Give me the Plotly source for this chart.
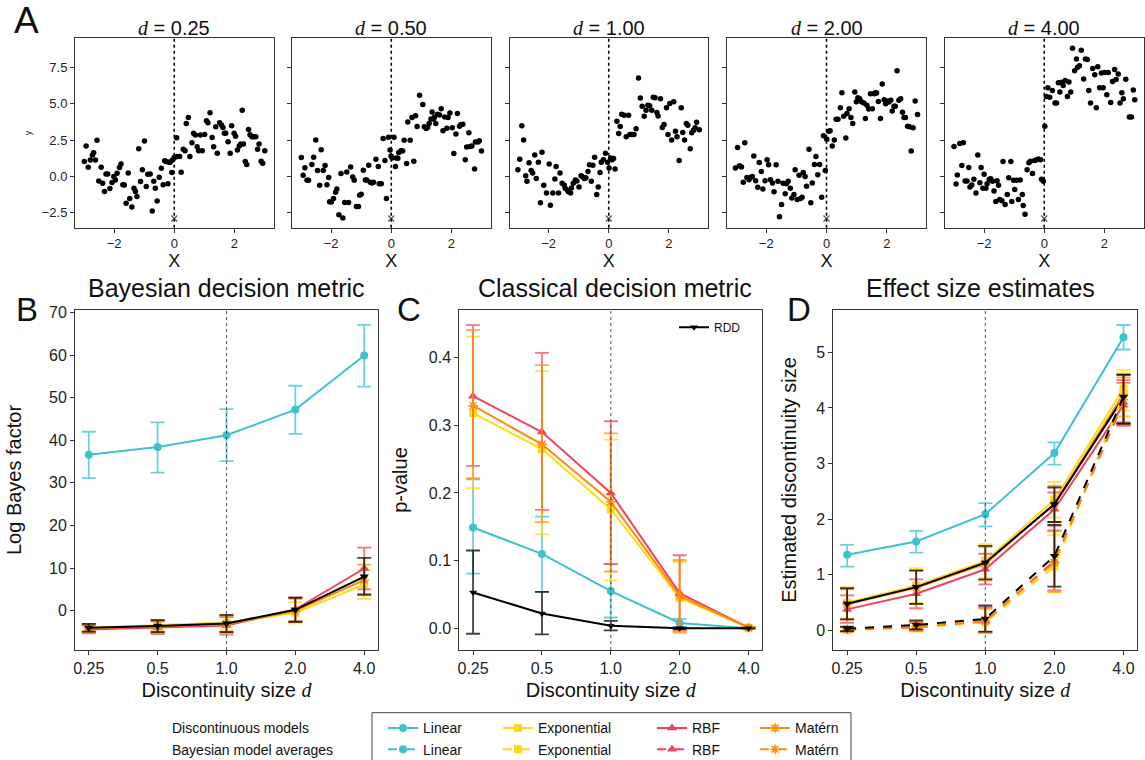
import numpy as np
import plotly.graph_objects as go

W, H = 1145, 760

# ---------------- Panel A: simulated data per discontinuity size ----------------
d_sizes = [0.25, 0.5, 1.0, 2.0, 4.0]
d_ticktext = ["0.25", "0.5", "1.0", "2.0", "4.0"]
threshold_x = [0.0]
threshold_marker_y = [-2.9]

xA1 = [-2.99,-2.93,-2.86,-2.79,-2.72,-2.68,-2.62,-2.57,-2.51,-2.43,
       -2.38,-2.32,-2.27,-2.21,-2.14,-2.07,-2.01,-1.96,-1.90,-1.82,
       -1.77,-1.71,-1.66,-1.60,-1.53,-1.48,-1.41,-1.34,-1.29,-1.24,
       -1.18,-1.12,-1.06,-0.99,-0.93,-0.88,-0.80,-0.73,-0.68,-0.63,
       -0.57,-0.50,-0.43,-0.37,-0.32,-0.27,-0.21,-0.18,-0.14,-0.08,
       -0.06,-0.01,0.01,0.08,0.10,0.18,0.23,0.30,0.36,0.40,
       0.47,0.52,0.59,0.64,0.70,0.76,0.81,0.87,0.93,1.01,
       1.07,1.12,1.19,1.26,1.31,1.38,1.43,1.51,1.57,1.62,
       1.67,1.71,1.79,1.86,1.91,1.99,2.04,2.10,2.16,2.21,
       2.26,2.30,2.36,2.41,2.47,2.52,2.58,2.64,2.71,2.77,
       2.82,2.89,2.94,3.01]
yA1 = [1.02,2.09,0.63,1.13,1.47,1.63,1.13,2.48,-0.31,0.63,
       -0.47,-1.04,0.17,0.17,-0.83,-0.42,-0.01,-0.24,0.22,0.61,
       0.86,-0.58,-0.60,-1.84,0.24,-1.52,-2.11,-0.81,-1.04,-1.38,
       1.91,-0.35,0.45,2.43,-0.70,0.15,0.17,-2.38,-0.33,-0.81,
       -1.70,-0.06,0.56,-0.58,1.08,1.02,-0.51,0.97,0.97,0.26,
       1.13,1.24,1.34,2.66,1.36,1.36,0.29,1.86,1.77,3.64,
       4.05,1.36,2.32,2.96,2.84,2.04,1.77,2.84,1.77,2.89,
       3.82,3.69,4.37,2.68,2.04,3.41,1.59,3.69,3.53,3.37,
       2.96,2.96,2.39,1.59,3.48,2.96,2.77,1.82,2.09,2.23,
       4.55,2.23,1.02,0.81,3.23,2.87,2.73,2.73,2.73,1.86,
       2.23,1.04,0.90,1.77]

xA2 = [-2.99,-2.93,-2.87,-2.80,-2.75,-2.64,-2.58,-2.51,-2.45,-2.38,
       -2.33,-2.26,-2.20,-2.14,-2.08,-2.05,-1.99,-1.92,-1.85,-1.81,
       -1.74,-1.67,-1.61,-1.55,-1.48,-1.42,-1.35,-1.28,-1.23,-1.16,
       -1.09,-1.05,-1.00,-0.93,-0.86,-0.82,-0.75,-0.70,-0.64,-0.59,
       -0.51,-0.43,-0.40,-0.33,-0.27,-0.21,-0.16,-0.09,-0.04,-0.01,
       0.03,0.09,0.14,0.17,0.22,0.25,0.32,0.38,0.43,0.51,
       0.55,0.63,0.69,0.75,0.81,0.86,0.94,1.05,1.10,1.16,
       1.21,1.26,1.32,1.36,1.41,1.44,1.48,1.54,1.61,1.66,
       1.72,1.78,1.85,1.89,1.95,2.03,2.08,2.15,2.20,2.27,
       2.31,2.38,2.46,2.51,2.58,2.62,2.68,2.77,2.80,2.88,
       2.93,3.00]
yA2 = [1.30,0.07,0.59,-0.27,-0.27,0.82,1.32,2.50,0.41,-0.61,
       1.84,0.41,0.75,-0.57,-0.07,-1.75,-1.77,-1.52,-1.09,-0.86,
       -2.64,0.20,-2.86,-1.80,0.30,-1.80,0.64,-0.05,-0.27,-2.07,
       -2.07,-1.30,-1.23,0.43,-0.25,-0.25,0.77,-0.41,-0.45,-0.41,
       1.18,0.68,-0.50,-0.50,2.61,1.09,-1.52,2.70,1.82,1.41,
       1.27,2.70,0.68,1.27,1.25,1.64,1.77,1.75,2.48,0.89,
       3.75,2.48,4.05,1.05,4.18,3.43,5.59,4.95,3.41,3.30,
       3.36,3.64,3.95,4.43,3.95,4.09,3.64,4.27,4.23,4.66,
       3.14,4.09,3.32,4.05,4.36,3.34,1.57,2.91,4.32,3.45,
       3.55,3.59,1.14,2.02,3.00,2.05,2.09,0.50,2.36,2.36,
       2.45,1.75]

xA3 = [-3.02,-2.96,-2.89,-2.83,-2.76,-2.72,-2.65,-2.58,-2.53,-2.46,
       -2.41,-2.34,-2.27,-2.22,-2.16,-2.07,-1.98,-1.94,-1.86,-1.79,
       -1.75,-1.67,-1.62,-1.55,-1.48,-1.45,-1.38,-1.34,-1.27,-1.24,
       -1.18,-1.11,-1.06,-0.99,-0.92,-0.87,-0.81,-0.76,-0.69,-0.64,
       -0.58,-0.53,-0.47,-0.40,-0.35,-0.29,-0.25,-0.18,-0.11,-0.04,
       0.01,0.06,0.11,0.16,0.21,0.27,0.33,0.38,0.43,0.51,
       0.58,0.66,0.70,0.77,0.84,0.91,0.99,1.05,1.11,1.18,
       1.24,1.30,1.36,1.43,1.48,1.54,1.60,1.64,1.72,1.78,
       1.84,1.92,1.97,2.03,2.09,2.16,2.22,2.27,2.34,2.41,
       2.46,2.52,2.58,2.63,2.71,2.76,2.82,2.87,2.92,3.01]
yA3 = [0.45,1.18,3.48,2.50,0.05,-0.34,0.93,0.41,0.23,1.48,
       -0.14,0.98,-1.82,1.66,-0.61,-1.14,0.86,-1.98,-1.14,-0.18,
       0.68,-1.14,0.23,-0.48,-0.59,-0.82,-0.93,-1.05,-1.14,-0.80,
       -0.48,-0.25,-0.32,-0.73,0.05,-0.02,-0.14,-0.09,0.34,0.80,
       -0.34,0.77,1.32,-1.25,-0.73,0.27,0.98,1.14,1.59,0.98,
       0.57,1.27,1.14,1.23,0.50,3.80,2.95,3.43,4.27,4.20,
       2.73,4.20,2.89,2.89,2.89,3.27,6.77,5.39,4.82,4.14,
       4.55,4.89,4.86,4.55,5.45,5.41,4.39,4.16,5.34,3.36,
       3.57,4.73,2.89,5.02,2.50,5.14,3.11,2.73,1.09,4.73,
       3.02,2.50,3.64,3.52,1.91,3.00,3.18,3.34,3.73,3.20]

xA4 = [-3.02,-2.95,-2.89,-2.82,-2.76,-2.71,-2.64,-2.57,-2.52,-2.46,
       -2.41,-2.35,-2.28,-2.23,-2.16,-2.11,-2.04,-1.97,-1.92,-1.86,
       -1.79,-1.74,-1.67,-1.61,-1.56,-1.49,-1.44,-1.37,-1.33,-1.27,
       -1.20,-1.15,-1.08,-1.04,-0.97,-0.91,-0.86,-0.81,-0.77,-0.71,
       -0.66,-0.58,-0.52,-0.47,-0.40,-0.35,-0.29,-0.23,-0.16,-0.10,
       -0.04,0.01,0.07,0.12,0.19,0.26,0.32,0.38,0.46,0.51,
       0.57,0.64,0.68,0.75,0.81,0.87,0.94,0.99,1.04,1.10,
       1.16,1.24,1.29,1.34,1.40,1.46,1.52,1.58,1.62,1.66,
       1.72,1.79,1.85,1.91,1.96,2.02,2.07,2.13,2.18,2.24,
       2.28,2.34,2.40,2.46,2.52,2.57,2.62,2.69,2.75,2.81,
       2.87,2.94,3.02]
yA4 = [0.57,1.98,0.73,0.64,-0.41,2.32,-0.07,-0.23,-0.07,0.00,
       1.41,-0.30,-0.75,0.95,0.34,-0.86,-0.30,1.14,0.80,-0.23,
       -0.45,-1.05,0.80,-0.34,-2.77,-1.93,-0.48,-1.20,-0.50,-0.34,
       -0.82,-1.48,-1.25,0.45,-1.59,0.07,-1.52,-1.43,0.27,0.00,
       -0.68,1.86,-1.82,-0.45,0.82,1.36,0.11,0.82,-1.43,2.80,
       0.41,2.55,3.11,3.14,2.09,2.50,3.93,3.93,4.73,5.75,
       4.14,2.64,4.32,4.66,4.05,3.64,5.80,5.14,5.41,5.34,
       5.14,5.05,3.98,4.89,4.64,5.68,4.66,5.68,5.75,5.73,
       5.16,3.98,6.36,5.27,5.00,5.18,5.11,5.23,4.50,4.82,
       4.82,7.27,5.23,5.34,4.41,4.05,4.05,3.45,3.41,1.75,
       3.34,5.18,4.25]

xA5 = [-3.00,-2.93,-2.89,-2.81,-2.74,-2.69,-2.63,-2.57,-2.51,-2.47,
       -2.41,-2.34,-2.27,-2.21,-2.14,-2.10,-2.04,-2.00,-1.94,-1.90,
       -1.83,-1.78,-1.72,-1.67,-1.61,-1.57,-1.52,-1.48,-1.41,-1.37,
       -1.30,-1.23,-1.18,-1.11,-1.08,-1.02,-0.98,-0.92,-0.86,-0.80,
       -0.73,-0.70,-0.64,-0.57,-0.51,-0.46,-0.39,-0.32,-0.26,-0.19,
       -0.12,-0.09,-0.03,0.02,0.07,0.12,0.18,0.27,0.36,0.41,
       0.47,0.52,0.58,0.63,0.70,0.77,0.82,0.88,0.94,1.01,
       1.07,1.11,1.17,1.23,1.31,1.37,1.43,1.48,1.54,1.61,
       1.68,1.73,1.78,1.84,1.90,1.96,2.01,2.08,2.13,2.21,
       2.27,2.34,2.39,2.46,2.52,2.58,2.63,2.71,2.83,2.90,
       2.96,3.01]
yA5 = [2.05,-0.52,0.09,2.27,0.75,2.32,-0.32,-0.32,0.61,-0.73,
       -0.59,-0.20,-1.14,1.48,-0.43,0.61,-0.82,0.14,-0.82,-0.50,
       -0.20,-0.16,-0.34,-1.00,-1.73,-0.30,-0.61,-1.59,-1.68,1.02,
       -1.93,-1.25,-0.09,1.02,-1.73,-0.27,-0.91,-0.27,-1.59,-0.25,
       -1.25,-2.00,-2.61,0.45,0.93,1.05,0.20,1.09,1.14,1.20,
       1.14,-0.20,-0.34,3.45,5.50,6.09,5.45,5.91,5.05,5.05,
       6.45,5.80,6.48,6.25,6.59,5.50,6.50,5.80,8.82,7.27,
       8.07,7.50,7.61,8.68,6.70,8.07,8.05,5.91,5.05,7.43,
       7.00,4.73,7.55,6.09,7.11,6.09,7.14,5.61,7.14,5.09,
       6.52,7.36,6.66,7.05,5.05,5.75,5.34,6.68,4.09,4.09,
       5.95,5.27]

panels_x = [xA1, xA2, xA3, xA4, xA5]
panels_y = [yA1, yA2, yA3, yA4, yA5]

# ---------------- Panel B: log Bayes factor ----------------
bf_lin = [36.6, 38.4, 41.2, 47.2, 59.9]
bf_lin_lo = [31.1, 32.4, 35.1, 41.5, 52.6]
bf_lin_hi = [42.0, 44.2, 47.3, 52.8, 67.1]
bf_exp = [-4.0, -3.4, -2.8, -0.5, 6.1]
bf_exp_lo = [-4.9, -4.6, -4.6, -3.0, 2.8]
bf_exp_hi = [-3.2, -2.3, -1.2, 2.0, 9.5]
bf_rbf = [-4.4, -4.0, -3.5, 0.3, 9.9]
bf_rbf_lo = [-5.3, -5.5, -5.6, -2.5, 5.0]
bf_rbf_hi = [-3.5, -2.5, -1.5, 3.2, 14.8]
bf_mat = [-4.1, -3.7, -3.2, 0.0, 7.2]
bf_mat_lo = [-5.0, -5.2, -5.2, -2.7, 3.6]
bf_mat_hi = [-3.2, -2.2, -1.2, 2.8, 10.8]
bf_blk = [-4.0, -3.6, -3.0, 0.2, 8.0]
bf_blk_lo = [-4.9, -5.0, -5.0, -2.6, 3.8]
bf_blk_hi = [-3.1, -2.2, -1.0, 3.0, 12.4]

# ---------------- Panel C: p-values ----------------
p_lin = [0.149, 0.110, 0.055, 0.008, 0.0]
p_lin_lo = [0.081, 0.054, 0.016, 0.002, 0.0]
p_lin_hi = [0.220, 0.165, 0.095, 0.014, 0.001]
p_exp = [0.318, 0.265, 0.176, 0.045, 0.001]
p_exp_lo = [0.207, 0.139, 0.071, -0.007, 0.0]
p_exp_hi = [0.431, 0.380, 0.279, 0.098, 0.002]
p_rbf = [0.343, 0.290, 0.200, 0.052, 0.001]
p_rbf_lo = [0.240, 0.175, 0.095, -0.003, 0.0]
p_rbf_hi = [0.448, 0.407, 0.306, 0.108, 0.002]
p_mat = [0.329, 0.272, 0.187, 0.048, 0.001]
p_mat_lo = [0.222, 0.157, 0.084, -0.005, 0.0]
p_mat_hi = [0.441, 0.389, 0.288, 0.101, 0.002]
p_rdd = [0.053, 0.022, 0.004, 0.0, 0.0]
p_rdd_lo = [-0.008, -0.009, -0.003, -0.001, 0.0]
p_rdd_hi = [0.115, 0.054, 0.011, 0.001, 0.0]

# ---------------- Panel D: effect size estimates ----------------
es_lin = [1.36, 1.60, 2.09, 3.19, 5.27]
es_lin_lo = [1.15, 1.40, 1.87, 2.98, 5.05]
es_lin_hi = [1.54, 1.79, 2.29, 3.38, 5.49]
es_exp = [0.50, 0.81, 1.25, 2.35, 4.35]
es_exp_lo = [0.22, 0.50, 0.95, 2.03, 3.95]
es_exp_hi = [0.78, 1.12, 1.55, 2.67, 4.68]
es_rbf = [0.38, 0.66, 1.10, 2.18, 4.05]
es_rbf_lo = [0.14, 0.40, 0.83, 1.88, 3.68]
es_rbf_hi = [0.63, 0.92, 1.38, 2.48, 4.45]
es_mat = [0.47, 0.77, 1.20, 2.28, 4.25]
es_mat_lo = [0.20, 0.48, 0.90, 1.95, 3.85]
es_mat_hi = [0.74, 1.07, 1.50, 2.60, 4.60]
es_blk = [0.48, 0.78, 1.22, 2.27, 4.19]
es_blk_lo = [0.20, 0.48, 0.92, 1.95, 3.72]
es_blk_hi = [0.76, 1.08, 1.52, 2.57, 4.60]
# Bayesian model averages (dashed)
bma_exp = [0.01, 0.05, 0.15, 1.15, 4.25]
bma_exp_lo = [-0.03, -0.02, -0.05, 0.68, 3.85]
bma_exp_hi = [0.05, 0.13, 0.38, 1.72, 4.62]
bma_rbf = [0.02, 0.06, 0.17, 1.25, 4.10]
bma_rbf_lo = [-0.02, 0.00, -0.03, 0.72, 3.70]
bma_rbf_hi = [0.06, 0.14, 0.42, 1.80, 4.50]
bma_mat = [0.02, 0.07, 0.17, 1.22, 4.15]
bma_mat_lo = [-0.02, 0.00, -0.04, 0.70, 3.75]
bma_mat_hi = [0.06, 0.15, 0.40, 1.78, 4.55]
bma_blk = [0.03, 0.10, 0.21, 1.34, 4.20]
bma_blk_lo = [-0.01, 0.02, -0.02, 0.79, 3.72]
bma_blk_hi = [0.07, 0.18, 0.45, 1.90, 4.60]

# ---------------- styling ----------------
FONT = "Liberation Sans, Arial, sans-serif"
SERIF_D = '<span style="font-family:Liberation Serif, Times New Roman, serif"><i>d</i></span>'
CYAN = "#3EC2CA"
YELLOW = "#FFDA10"
RED = "#F0445C"
ORANGE = "#FF8C0A"
BLACK = "#000000"
FRAME = "#333333"


def rgba(hexc, a):
    h = hexc.lstrip("#")
    return "rgba(%d,%d,%d,%.2f)" % (int(h[0:2], 16), int(h[2:4], 16), int(h[4:6], 16), a)


def px_x(p):
    return p / W


def px_y(p):
    return 1 - p / H


fig = go.Figure()

# ---- top row axes ----
top_dom = [(75, 273.5), (292, 490.5), (509.5, 708), (727, 926), (945, 1143.5)]
top_y = (38.3, 227.7)
for i in range(5):
    xa = "x" if i == 0 else "x%d" % (i + 1)
    ya = "y" if i == 0 else "y%d" % (i + 1)
    fig.add_trace(go.Scatter(x=panels_x[i], y=panels_y[i], mode="markers",
                             marker=dict(color="black", size=5.5),
                             xaxis=xa, yaxis=ya, showlegend=False))
    fig.add_trace(go.Scatter(x=threshold_x, y=threshold_marker_y, mode="markers",
                             marker=dict(symbol="x-thin-open", size=6, color="#555",
                                         line=dict(color="#555", width=1.2)),
                             xaxis=xa, yaxis=ya, showlegend=False))
    fig.add_shape(type="line", xref=xa, yref=ya + " domain", x0=threshold_x[0], x1=threshold_x[0],
                  y0=0, y1=1, line=dict(color="black", width=1.6, dash="dot"))

layout = {}
for i in range(5):
    kx = "xaxis" if i == 0 else "xaxis%d" % (i + 1)
    ky = "yaxis" if i == 0 else "yaxis%d" % (i + 1)
    ya = "y" if i == 0 else "y%d" % (i + 1)
    xa = "x" if i == 0 else "x%d" % (i + 1)
    layout[kx] = dict(domain=[px_x(top_dom[i][0]), px_x(top_dom[i][1])], anchor=ya,
                      range=[-3.3, 3.3], tickvals=[-2, 0, 2], ticks="outside", ticklen=4,
                      tickcolor=FRAME, showline=True, mirror=True, linecolor=FRAME, linewidth=1,
                      showgrid=False, zeroline=False, tickfont=dict(size=13, color="#222"),
                      title=dict(text="X", font=dict(size=18, color="#111"), standoff=2))
    layout[ky] = dict(domain=[px_y(top_y[1]), px_y(top_y[0])], anchor=xa,
                      range=[-3.53, 9.5], tickvals=[-2.5, 0, 2.5, 5, 7.5], tickformat=".1f",
                      ticks="outside", ticklen=4, tickcolor=FRAME, showline=True, mirror=True,
                      linecolor=FRAME, linewidth=1, showgrid=False, zeroline=False,
                      showticklabels=(i == 0), tickfont=dict(size=13, color="#222"))
    if i == 0:
        layout[ky]["title"] = dict(text="y", font=dict(size=9, color="#222"), standoff=8)

# ---- bottom row axes ----
bot_dom = [(75, 378), (459.3, 762.3), (833.3, 1137.3)]
bot_y = (310, 650)
lg2 = np.log10(2)
xr = [np.log10(d_sizes[0]) - 0.2 * lg2, np.log10(d_sizes[-1]) + 0.2 * lg2]
bot_yrange = [[-9.23, 70.58], [-0.032, 0.4704], [-0.35, 5.76]]
bot_ytitle = ["Log Bayes factor", "p-value", "Estimated discontinuity size"]
bot_ystand = [22, 15, 14]
bot_ytick = [dict(tickvals=[0, 10, 20, 30, 40, 50, 60, 70]),
             dict(tickvals=[0, 0.1, 0.2, 0.3, 0.4], tickformat=".1f"),
             dict(tickvals=[0, 1, 2, 3, 4, 5])]
for j in range(3):
    n = 6 + j
    layout["xaxis%d" % n] = dict(domain=[px_x(bot_dom[j][0]), px_x(bot_dom[j][1])], anchor="y%d" % n,
                                 type="log", range=xr, tickvals=d_sizes, ticktext=d_ticktext,
                                 ticks="outside", ticklen=4, tickcolor=FRAME, showline=True, mirror=True,
                                 linecolor=FRAME, linewidth=1, showgrid=False, zeroline=False,
                                 tickfont=dict(size=16, color="#222"),
                                 title=dict(text="Discontinuity size " + SERIF_D,
                                            font=dict(size=20, color="#111"), standoff=6))
    yd = dict(domain=[px_y(bot_y[1]), px_y(bot_y[0])], anchor="x%d" % n, range=bot_yrange[j],
              ticks="outside", ticklen=4, tickcolor=FRAME, showline=True, mirror=True,
              linecolor=FRAME, linewidth=1, showgrid=False, zeroline=False,
              tickfont=dict(size=16, color="#222"),
              title=dict(text=bot_ytitle[j], font=dict(size=20, color="#111"), standoff=bot_ystand[j]))
    yd.update(bot_ytick[j])
    layout["yaxis%d" % n] = yd
    fig.add_shape(type="line", xref="x%d" % n, yref="y%d domain" % n, x0=1.0, x1=1.0, y0=0, y1=1,
                  line=dict(color="#444", width=0.9, dash="dot"))


def add_series(n, mean, lo, hi, color, symbol, size, dash="solid", name=None, legend=None,
               showlegend=False, ealpha=0.75):
    mean = np.array(mean, dtype=float)
    lo = np.array(lo, dtype=float)
    hi = np.array(hi, dtype=float)
    line_w = 1.6 if symbol.startswith("asterisk") else 0
    fig.add_trace(go.Scatter(
        x=d_sizes, y=mean, mode="lines+markers", name=name,
        line=dict(color=color, width=2, dash=dash),
        marker=dict(symbol=symbol, size=size, color=color, line=dict(color=color, width=line_w)),
        error_y=dict(type="data", symmetric=False, array=hi - mean, arrayminus=mean - lo,
                     color=rgba(color, ealpha), thickness=1.8, width=7),
        xaxis="x%d" % n, yaxis="y%d" % n, showlegend=showlegend,
        legend=legend if legend else "legend"))


# Panel B
add_series(6, bf_lin, bf_lin_lo, bf_lin_hi, CYAN, "circle", 8)
add_series(6, bf_exp, bf_exp_lo, bf_exp_hi, YELLOW, "square", 8)
add_series(6, bf_rbf, bf_rbf_lo, bf_rbf_hi, RED, "triangle-up", 9)
add_series(6, bf_mat, bf_mat_lo, bf_mat_hi, ORANGE, "asterisk-open", 8)
add_series(6, bf_blk, bf_blk_lo, bf_blk_hi, BLACK, "triangle-down", 8)

# Panel C
add_series(7, p_lin, p_lin_lo, p_lin_hi, CYAN, "circle", 8)
add_series(7, p_exp, p_exp_lo, p_exp_hi, YELLOW, "square", 8)
add_series(7, p_rbf, p_rbf_lo, p_rbf_hi, RED, "triangle-up", 9)
add_series(7, p_mat, p_mat_lo, p_mat_hi, ORANGE, "asterisk-open", 8)
add_series(7, p_rdd, p_rdd_lo, p_rdd_hi, BLACK, "triangle-down", 7, name="RDD",
           legend="legend2", showlegend=True)

# Panel D - discontinuous models (solid)
add_series(8, es_lin, es_lin_lo, es_lin_hi, CYAN, "circle", 8, name="Linear",
           legend="legend3", showlegend=True)
add_series(8, es_exp, es_exp_lo, es_exp_hi, YELLOW, "square", 8, name="Exponential",
           legend="legend4", showlegend=True)
add_series(8, es_rbf, es_rbf_lo, es_rbf_hi, RED, "triangle-up", 9, name="RBF",
           legend="legend5", showlegend=True)
add_series(8, es_mat, es_mat_lo, es_mat_hi, ORANGE, "asterisk-open", 8, name="Matérn",
           legend="legend6", showlegend=True)
add_series(8, es_blk, es_blk_lo, es_blk_hi, BLACK, "triangle-down", 8)

# Panel D - Bayesian model averages (dashed)
fig.add_trace(go.Scatter(x=[None], y=[None], mode="lines+markers", name="Linear",
                         line=dict(color=CYAN, width=2, dash="dash"),
                         marker=dict(symbol="circle", size=8, color=CYAN),
                         xaxis="x8", yaxis="y8", showlegend=True, legend="legend3"))
add_series(8, bma_exp, bma_exp_lo, bma_exp_hi, YELLOW, "square", 8, dash="dash", name="Exponential",
           legend="legend4", showlegend=True)
add_series(8, bma_rbf, bma_rbf_lo, bma_rbf_hi, RED, "triangle-up", 9, dash="dash", name="RBF",
           legend="legend5", showlegend=True)
add_series(8, bma_mat, bma_mat_lo, bma_mat_hi, ORANGE, "asterisk-open", 8, dash="dash", name="Matérn",
           legend="legend6", showlegend=True)
add_series(8, bma_blk, bma_blk_lo, bma_blk_hi, BLACK, "triangle-down", 8, dash="dash")

# ---- legends ----
def leg(xpx, ytop_px, size):
    return dict(x=px_x(xpx), y=px_y(ytop_px), xanchor="left", yanchor="top", orientation="v",
                bgcolor="rgba(0,0,0,0)", borderwidth=0, font=dict(size=size, color="#111"),
                tracegroupgap=0, itemclick=False, itemdoubleclick=False)

layout["legend"] = dict(visible=False)
layout["legend2"] = leg(674, 312.7, 12)
layout["legend3"] = leg(383, 712.4, 14)
layout["legend4"] = leg(498, 712.4, 14)
layout["legend5"] = leg(652, 712.4, 14)
layout["legend6"] = leg(755, 712.4, 14)

fig.add_shape(type="rect", xref="paper", yref="paper", x0=px_x(372), x1=px_x(851),
              y0=px_y(712.7), y1=px_y(775), line=dict(color="#444", width=1), fillcolor="rgba(0,0,0,0)")

# ---- annotations ----
ann = []
d_titles = ["%.2f" % d for d in d_sizes]
for i in range(5):
    cx = (top_dom[i][0] + top_dom[i][1]) / 2
    ann.append(dict(x=px_x(cx), y=px_y(28), xref="paper", yref="paper", showarrow=False,
                    text=SERIF_D + " = " + d_titles[i], font=dict(size=20, color="#111"),
                    xanchor="center", yanchor="middle"))
for letter, xx, yy, sz in [("A", 26.7, 20.5, 37), ("B", 26.7, 309.5, 33), ("C", 409, 309.5, 33),
                           ("D", 799, 309.5, 33)]:
    ann.append(dict(x=px_x(xx), y=px_y(yy), xref="paper", yref="paper", showarrow=False, text=letter,
                    font=dict(size=sz, color="#111"), xanchor="center", yanchor="middle"))
for t, xx in [("Bayesian decision metric", 226.5), ("Classical decision metric", 614.5),
              ("Effect size estimates", 980)]:
    ann.append(dict(x=px_x(xx), y=px_y(288), xref="paper", yref="paper", showarrow=False, text=t,
                    font=dict(size=25, color="#111"), xanchor="center", yanchor="middle"))
for t, yy in [("Discontinuous models", 728.3), ("Bayesian model averages", 750)]:
    ann.append(dict(x=px_x(170), y=px_y(yy), xref="paper", yref="paper", showarrow=False, text=t,
                    font=dict(size=14, color="#111"), xanchor="left", yanchor="middle"))

fig.update_layout(width=W, height=H, margin=dict(l=0, r=0, t=0, b=0, autoexpand=False),
                  paper_bgcolor="white", plot_bgcolor="white",
                  font=dict(family=FONT, color="#111"), annotations=ann, **layout)

fig.write_html("out.html")
